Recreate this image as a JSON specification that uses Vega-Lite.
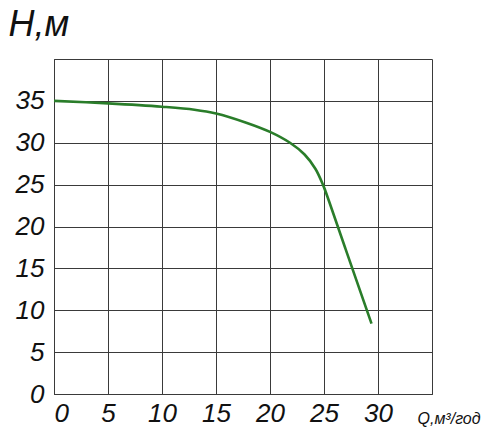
{
  "$schema": "https://vega.github.io/schema/vega-lite/v6.json",
  "width": 378,
  "height": 335,
  "autosize": "none",
  "padding": {"left": 54, "top": 59, "right": 68, "bottom": 41},
  "background": "white",
  "config": {
    "view": {"stroke": "#3a3a3a", "strokeWidth": 1},
    "axis": {
      "labelColor": "#111",
      "titleColor": "#111",
      "gridColor": "#3a3a3a",
      "gridOpacity": 1,
      "gridWidth": 1,
      "domainColor": "#3a3a3a",
      "ticks": false
    }
  },
  "data": {
    "values": [
      {"Q": 0, "H": 35.0},
      {"Q": 5, "H": 34.7},
      {"Q": 10, "H": 34.3},
      {"Q": 13, "H": 33.95},
      {"Q": 15, "H": 33.5},
      {"Q": 17.8, "H": 32.4},
      {"Q": 20, "H": 31.3},
      {"Q": 21.85, "H": 30.0},
      {"Q": 23.2, "H": 28.6},
      {"Q": 24.2, "H": 26.9},
      {"Q": 24.9, "H": 25.0},
      {"Q": 25.5, "H": 22.9},
      {"Q": 27, "H": 17.3},
      {"Q": 29.4, "H": 8.4}
    ]
  },
  "mark": {"type": "line", "color": "#2a7d2a", "strokeWidth": 2.6, "interpolate": "catmull-rom"},
  "encoding": {
    "x": {
      "field": "Q",
      "type": "quantitative",
      "scale": {"domain": [0, 35], "nice": false},
      "axis": {
        "labelFont": "Liberation Sans",
        "labelFontStyle": "italic",
        "labelFontSize": 26,
        "values": [0, 5, 10, 15, 20, 25, 30],
        "labelPadding": 6,
        "title": "Q,м³/год",
        "titleFont": "Liberation Sans",
        "titleFontStyle": "italic",
        "titleFontWeight": "normal",
        "titleFontSize": 16,
        "titleAnchor": "start",
        "titleAlign": "left",
        "titleBaseline": "alphabetic",
        "titleX": 363,
        "titleY": 29
      }
    },
    "y": {
      "field": "H",
      "type": "quantitative",
      "scale": {"domain": [0, 40], "nice": false},
      "axis": {
        "labelFont": "Liberation Sans",
        "labelFontStyle": "italic",
        "labelFontSize": 26,
        "values": [0, 5, 10, 15, 20, 25, 30, 35],
        "labelPadding": 10,
        "title": "H,м",
        "titleFont": "Liberation Sans",
        "titleFontStyle": "italic",
        "titleFontWeight": "normal",
        "titleFontSize": 36,
        "titleAngle": 0,
        "titleAlign": "left",
        "titleBaseline": "alphabetic",
        "titleX": -46,
        "titleY": -24
      }
    }
  }
}
